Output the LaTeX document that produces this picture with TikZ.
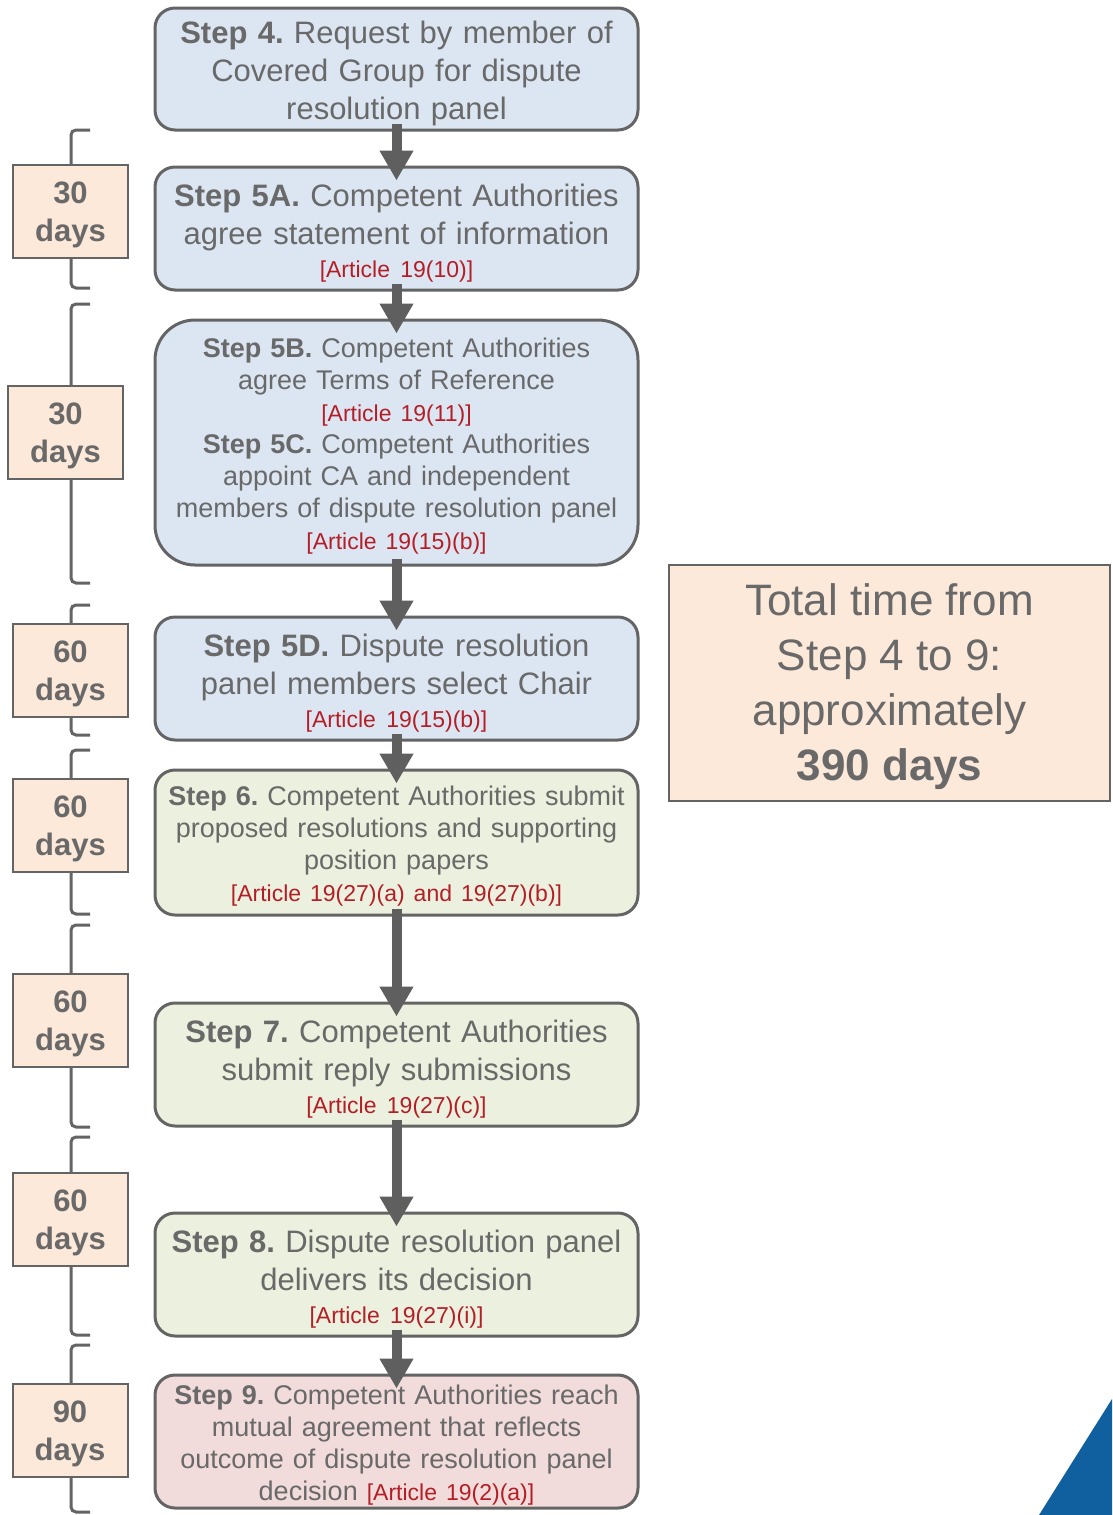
\documentclass[tikz,border=0pt]{standalone}
\usepackage{fontspec}
\setmainfont{Liberation Sans}
\usetikzlibrary{arrows.meta}
\frenchspacing
\definecolor{boxblue}{RGB}{220,230,242}
\definecolor{boxgreen}{RGB}{235,241,222}
\definecolor{boxpink}{RGB}{242,220,219}
\definecolor{peach}{RGB}{253,233,217}
\definecolor{edge}{RGB}{100,100,100}
\definecolor{txt}{RGB}{105,105,105}
\definecolor{artred}{RGB}{180,30,38}
\definecolor{flowgray}{RGB}{95,95,95}
\definecolor{cornerblue}{RGB}{16,96,160}
\newcommand{\art}[1]{{\fontsize{23}{28}\selectfont\color{artred}[Article #1]}}
\newcommand{\days}[1]{\rule{0pt}{29pt}#1\\days}

\begin{document}
\begin{tikzpicture}
  [x=1pt,y=-1pt,
   every node/.style={text=txt,align=center,inner sep=0pt},
   stepbox/.style={draw=edge,line width=3pt,rounded corners=20pt,minimum width=483pt,text width=476pt},
   big/.style={font=\fontsize{31}{38}\selectfont,execute at begin node={\rule{0pt}{31pt}}},
   small/.style={font=\fontsize{27}{32}\selectfont,execute at begin node={\rule{0pt}{27pt}}},
   daybox/.style={draw=edge,line width=2pt,fill=peach,minimum width=115pt,minimum height=93pt,font=\bfseries\fontsize{31}{38}\selectfont},
   flow/.style={draw=flowgray,line width=10pt,-{Triangle[width=32pt,length=30pt]},shorten <=-8pt,shorten >=-15pt},
   brk/.style={draw=edge,line width=3pt,rounded corners=5pt}]
  \useasboundingbox (0,0) rectangle (1112,1515);
  \node[stepbox,big,fill=boxblue,minimum height=122pt] (s4) at (396.5,69)
    {\textbf{Step 4.} Request by member of\\ Covered Group for dispute\\ resolution panel};
  \node[stepbox,big,fill=boxblue,minimum height=123pt] (s5a) at (396.5,228.5)
    {\textbf{Step 5A.} Competent Authorities\\ agree statement of information\\[-5pt] \art{19(10)}};
  \node[stepbox,small,fill=boxblue,minimum height=245pt,rounded corners=40pt] (s5b) at (396.5,442.5)
    {\textbf{Step 5B.} Competent Authorities\\ agree Terms of Reference\\ \art{19(11)}\\
     \textbf{Step 5C.} Competent Authorities\\ appoint CA and independent\\ members of dispute resolution panel\\ \art{19(15)(b)}};
  \node[stepbox,big,fill=boxblue,minimum height=123pt] (s5d) at (396.5,678.5)
    {\textbf{Step 5D.} Dispute resolution\\ panel members select Chair\\[-5pt] \art{19(15)(b)}};
  \node[stepbox,small,fill=boxgreen,minimum height=145pt] (s6) at (396.5,842.5)
    {\textbf{Step 6.} Competent Authorities submit\\ proposed resolutions and supporting\\ position papers\\ \art{19(27)(a) and 19(27)(b)}};
  \node[stepbox,big,fill=boxgreen,minimum height=123pt] (s7) at (396.5,1064.5)
    {\textbf{Step 7.} Competent Authorities\\ submit reply submissions\\[-5pt] \art{19(27)(c)}};
  \node[stepbox,big,fill=boxgreen,minimum height=123pt] (s8) at (396.5,1274.5)
    {\textbf{Step 8.} Dispute resolution panel\\ delivers its decision\\[-5pt] \art{19(27)(i)}};
  \node[stepbox,small,fill=boxpink,minimum height=133pt] (s9) at (396.5,1441.5)
    {\textbf{Step 9.} Competent Authorities reach\\ mutual agreement that reflects\\ outcome of dispute resolution panel\\ decision \art{19(2)(a)}};
  \foreach \from/\to in {s4/s5a,s5a/s5b,s5b/s5d,s5d/s6,s6/s7,s7/s8,s8/s9}
    \draw[flow] (\from.south) -- (\to.north);
  \foreach \ya/\yb in {130/288,304/583,605/735,750/914,925/1127,1137/1335,1345/1512}
    \draw[brk] (90,\ya) -- (71,\ya) -- (71,\yb) -- (90,\yb);
  \node[daybox] (d1) at (70.5,211.5) {\days{30}};
  \node[daybox] (d2) at (65.5,432.5) {\days{30}};
  \node[daybox] (d3) at (70.5,670) {\days{60}};
  \node[daybox] (d4) at (70.5,825) {\days{60}};
  \node[daybox] (d5) at (70.5,1020) {\days{60}};
  \node[daybox] (d6) at (70.5,1219) {\days{60}};
  \node[daybox] (d7) at (70,1430.5) {\days{90}};
  \node[draw=edge,line width=2pt,fill=peach,minimum width=441pt,minimum height=236pt,font=\fontsize{44}{55}\selectfont] (total) at (889.5,683)
    {\rule{0pt}{40pt}Total time from\\ Step 4 to 9:\\ approximately\\ \textbf{390 days}};
  \fill[cornerblue] (1112,1399) -- (1112,1515) -- (1039,1515) -- cycle;
\end{tikzpicture}
\end{document}
